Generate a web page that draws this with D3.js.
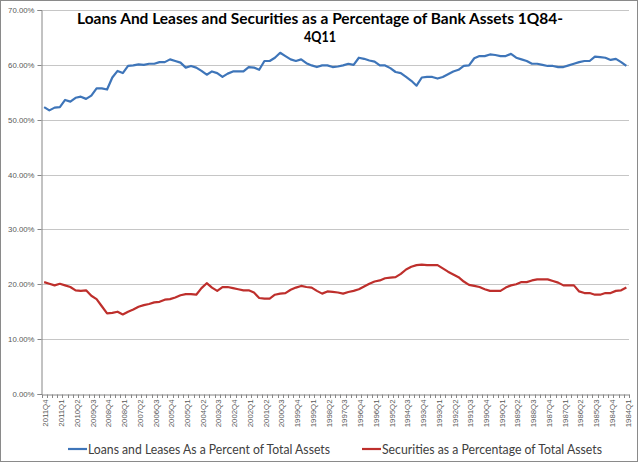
<!DOCTYPE html>
<html>
<head>
<meta charset="utf-8">
<script src="https://cdn.jsdelivr.net/npm/d3@7"></script>
<style>
body { margin: 0; background: #fff; }
svg { display: block; }
</style>
</head>
<body>
<svg id="canvas" width="640" height="464"></svg>
<script>
// quarters run newest -> oldest, like the original sheet
const years = d3.range(2011, 1983, -1)
const quarters = []
years.forEach(y => [4, 3, 2, 1].forEach(q => quarters.push(y + "Q" + q)))

// Loans and leases as % of total assets (2011Q4 ... 1984Q1)
const loans = [
  52.3, 51.7, 52.2, 52.3, 53.6, 53.3, 54.0, 54.2, 53.8, 54.4,
  55.7, 55.7, 55.5, 57.7, 58.9, 58.5, 59.8, 59.9, 60.1, 60.0,
  60.2, 60.2, 60.5, 60.5, 61.0, 60.7, 60.4, 59.5, 59.8, 59.5,
  58.9, 58.2, 58.8, 58.5, 57.8, 58.4, 58.8, 58.8, 58.8, 59.6,
  59.5, 59.1, 60.7, 60.7, 61.3, 62.2, 61.6, 61.0, 60.7, 61.0,
  60.3, 59.9, 59.6, 59.9, 59.9, 59.6, 59.7, 59.9, 60.2, 60.0,
  61.3, 61.1, 60.8, 60.6, 59.9, 59.9, 59.4, 58.7, 58.5, 57.8,
  57.1, 56.2, 57.7, 57.8, 57.8, 57.5, 57.8, 58.3, 58.8, 59.1,
  59.8, 59.9, 61.2, 61.6, 61.6, 61.9, 61.8, 61.6, 61.6, 62.0,
  61.3, 61.0, 60.7, 60.2, 60.2, 60.0, 59.8, 59.8, 59.6, 59.6,
  59.9, 60.2, 60.5, 60.7, 60.7, 61.5, 61.4, 61.3, 60.9, 61.1,
  60.5, 59.8
]

// Securities as % of total assets
const securities = [
  20.4, 20.1, 19.8, 20.1, 19.8, 19.5, 18.9, 18.8, 18.9, 17.9,
  17.3, 16.0, 14.7, 14.8, 15.0, 14.5, 15.0, 15.4, 15.9, 16.2,
  16.4, 16.7, 16.8, 17.2, 17.3, 17.6, 18.0, 18.2, 18.2, 18.1,
  19.3, 20.2, 19.4, 18.8, 19.5, 19.5, 19.3, 19.1, 18.9, 18.9,
  18.5, 17.5, 17.4, 17.4, 18.1, 18.3, 18.4, 19.0, 19.4, 19.7,
  19.5, 19.4, 18.8, 18.3, 18.7, 18.6, 18.5, 18.3, 18.6, 18.8,
  19.1, 19.6, 20.1, 20.5, 20.7, 21.1, 21.2, 21.3, 21.9, 22.7,
  23.2, 23.5, 23.6, 23.5, 23.5, 23.5, 22.9, 22.3, 21.8, 21.3,
  20.5, 19.9, 19.7, 19.5, 19.1, 18.8, 18.8, 18.8, 19.4, 19.8,
  20.0, 20.4, 20.4, 20.7, 20.9, 20.9, 20.9, 20.6, 20.3, 19.8,
  19.8, 19.8, 18.7, 18.4, 18.4, 18.1, 18.1, 18.4, 18.4, 18.8,
  18.9, 19.4
]

const yTicks = [0, 0.1, 0.2, 0.3, 0.4, 0.5, 0.6, 0.7]
const labelTicks = quarters.filter((d, i) => i % 3 == 0)
const seriesNames = ["Loans and Leases As a Percent of Total Assets", "Securities as a Percentage of Total Assets"]
const seriesColors = ["#3e75b9", "#be2f2c"]

const svg = d3.select("#canvas")
const pLeft = 41.5, pRight = 629, pTop = 10, pBottom = 394

svg.append("rect").attr("x", 0.5).attr("y", 0.5).attr("width", 637).attr("height", 461)
  .attr("fill", "#fff").attr("stroke", "#8a8a8a")

const x = d3.scaleBand().domain(quarters).range([pLeft, pRight]).padding(0)
const y = d3.scaleLinear().domain([0, 0.7]).range([pBottom, pTop])
const cx = d => x(d) + x.bandwidth() / 2

// gridlines
svg.append("g").selectAll("line").data(yTicks.slice(1)).join("line")
  .attr("x1", pLeft).attr("x2", pRight)
  .attr("y1", d => Math.round(y(d)) + 0.5).attr("y2", d => Math.round(y(d)) + 0.5)
  .attr("stroke", "#c6c6c6")

// y axis
const yAxis = svg.append("g").attr("transform", `translate(${pLeft},0)`)
  .call(d3.axisLeft(y).tickValues(yTicks).tickFormat(d3.format(".2%")).tickSize(4).tickPadding(3))
yAxis.select(".domain").attr("stroke", "#868686")
yAxis.selectAll(".tick line").attr("stroke", "#868686")
yAxis.selectAll("text").attr("fill", "#595959").style("font", "7.8px 'Liberation Sans', Arial")
yAxis.selectAll(".tick").attr("transform", d => `translate(0,${Math.round(y(d)) + 0.5})`)

// x axis
const xAxis = svg.append("g").attr("transform", `translate(0,${pBottom + 0.5})`)
  .call(d3.axisBottom(x).tickValues(labelTicks).tickSize(0).tickPadding(0))
xAxis.select(".domain").attr("stroke", "#868686")
xAxis.selectAll("text")
  .attr("fill", "#595959").style("font", "7.8px 'Liberation Sans', Arial")
  .attr("text-anchor", "end").attr("transform", "rotate(-90)")
  .attr("x", -5).attr("y", 1.5).attr("dy", "0.35em")

// minor ticks between categories
svg.append("g").selectAll("line").data(quarters.concat([null])).join("line")
  .attr("x1", d => d ? Math.round(x(d)) + 0.5 : pRight + 0.5)
  .attr("x2", d => d ? Math.round(x(d)) + 0.5 : pRight + 0.5)
  .attr("y1", pBottom + 0.5).attr("y2", pBottom + 4)
  .attr("stroke", "#868686")

// series lines
const line = d3.line().x((d, i) => cx(quarters[i])).y(d => y(d / 100)).curve(d3.curveLinear)
;[loans, securities].forEach((s, k) => {
  svg.append("path").datum(s).attr("d", line)
    .attr("fill", "none").attr("stroke", seriesColors[k]).attr("stroke-width", 2.2)
    .attr("stroke-linejoin", "round")
})

// title
const title = svg.append("text").attr("x", 320).attr("text-anchor", "middle")
  .style("font", "bold 15px Lato, 'Open Sans', sans-serif").attr("fill", "#000")
title.append("tspan").attr("x", 320).attr("y", 24)
  .attr("textLength", 486).attr("lengthAdjust", "spacingAndGlyphs")
  .text("Loans And Leases and Securities as a Percentage of Bank Assets 1Q84-")
title.append("tspan").attr("x", 320).attr("y", 42)
  .attr("textLength", 32).attr("lengthAdjust", "spacingAndGlyphs").text("4Q11")

// legend
const legendX = [68, 362], legendW = [242, 220]
const legend = svg.append("g")
seriesNames.forEach((n, k) => {
  legend.append("line").attr("x1", legendX[k]).attr("x2", legendX[k] + 19)
    .attr("y1", 449).attr("y2", 449).attr("stroke", seriesColors[k]).attr("stroke-width", 2.2)
  legend.append("text").attr("x", legendX[k] + 20).attr("y", 454)
    .style("font", "13px Lato, 'Open Sans', sans-serif").attr("fill", "#404040")
    .attr("textLength", legendW[k]).attr("lengthAdjust", "spacingAndGlyphs").text(n)
})
</script>
</body>
</html>
